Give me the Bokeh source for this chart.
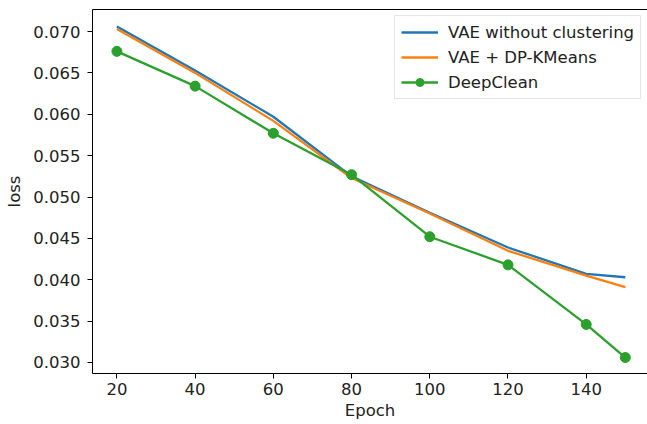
from bokeh.plotting import figure
from bokeh.models import Range1d, FixedTicker, NumeralTickFormatter, Legend, LinearAxis
from bokeh.embed import file_html
from bokeh.resources import INLINE

epochs = [20, 40, 60, 80, 100, 120, 140, 150]
vae_plain = [0.0706, 0.0653, 0.0597, 0.0525, 0.0481, 0.0439, 0.0407, 0.0403]
vae_dpkmeans = [0.0703, 0.0650, 0.0592, 0.0523, 0.0480, 0.0435, 0.0405, 0.0391]
deepclean = [0.0676, 0.0634, 0.0577, 0.0527, 0.0452, 0.0418, 0.0346, 0.0306]

x_ticks = [20, 40, 60, 80, 100, 120, 140]
y_ticks = [0.030, 0.035, 0.040, 0.045, 0.050, 0.055, 0.060, 0.065, 0.070]

FONT = "DejaVu Sans"
FS = "16.5px"
TXT = "#222222"
blue, orange, green = "#1f77b4", "#ff7f0e", "#2ca02c"

p = figure(width=647, height=424, output_backend="svg", toolbar_location=None,
           x_range=Range1d(13.76, 155.67), y_range=Range1d(0.02867, 0.07266),
           min_border_left=92, min_border_right=0, min_border_top=9, min_border_bottom=51)
p.background_fill_color = "white"
p.border_fill_color = "white"
p.outline_line_color = None
p.xgrid.visible = False
p.ygrid.visible = False

xax = p.below[0]
yax = p.left[0]

for ax in (xax, yax):
    ax.axis_line_color = "black"
    ax.axis_line_width = 1
    ax.major_tick_line_color = "black"
    ax.major_tick_line_width = 1
    ax.major_tick_in = 0
    ax.major_tick_out = 5
    ax.minor_tick_line_color = None
    ax.major_label_text_font = FONT
    ax.major_label_text_font_size = FS
    ax.major_label_text_color = TXT
    ax.axis_label_text_font = FONT
    ax.axis_label_text_font_size = FS
    ax.axis_label_text_font_style = "normal"
    ax.axis_label_text_color = TXT

xax.ticker = FixedTicker(ticks=x_ticks)
yax.ticker = FixedTicker(ticks=y_ticks)
yax.formatter = NumeralTickFormatter(format="0.000")
xax.axis_label = "Epoch"
yax.axis_label = "loss"
xax.major_label_standoff = 4
xax.axis_label_standoff = 3
yax.major_label_standoff = 7
yax.axis_label_standoff = 6

# top spine (the right spine is cropped off in the reference)
top = LinearAxis(ticker=FixedTicker(ticks=[]), major_tick_line_color=None,
                 minor_tick_line_color=None, major_label_text_font_size="0px",
                 major_label_standoff=0, axis_line_color="black", axis_line_width=1)
p.add_layout(top, "above")

r1 = p.line(epochs, vae_plain, line_color=blue, line_width=2.3)
r2 = p.line(epochs, vae_dpkmeans, line_color=orange, line_width=2.3)
r3 = p.line(epochs, deepclean, line_color=green, line_width=2.3)
r3m = p.scatter(epochs, deepclean, size=10, fill_color=green, line_color=green)

legend = Legend(items=[("VAE without clustering", [r1]),
                       ("VAE + DP-KMeans", [r2]),
                       ("DeepClean", [r3, r3m])],
                location=(302, 274))
legend.margin = 0
legend.padding = 6
legend.spacing = 5
legend.glyph_width = 37
legend.glyph_height = 20
legend.label_height = 20
legend.label_standoff = 10
legend.label_text_font = FONT
legend.label_text_font_size = FS
legend.label_text_color = TXT
legend.border_line_color = "#cccccc"
legend.border_line_width = 1
legend.background_fill_alpha = 0.8
p.add_layout(legend)

open("out.html", "w").write(file_html(p, INLINE))
